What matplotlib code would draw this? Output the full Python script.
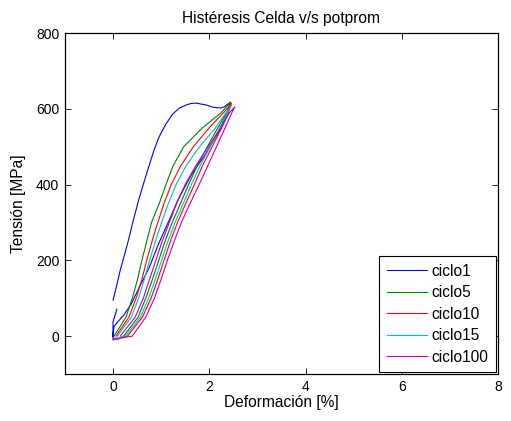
import numpy as np
import matplotlib
matplotlib.use('Agg')
from matplotlib import pyplot as plt

plt.rcParams['font.family'] = ['Liberation Sans', 'DejaVu Sans']

# ciclo1: loading curve, unloading curve, small stub at the origin
ciclo1_x = [0.0, 0.06, 0.15, 0.24, 0.32, 0.42, 0.53, 0.64, 0.74, 0.85, 0.95, 1.1, 1.24, 1.38, 1.52,
            1.62, 1.73, 1.85, 1.94, 2.05, 2.15, 2.25, 2.32, 2.38, 2.44,
            2.36, 2.2, 1.92, 1.62, 1.36, 1.15, 0.93, 0.75, 0.55, 0.38, 0.22, 0.1, 0.02, 0.0, 0.0, 0.0, 0.0, 0.08]
ciclo1_y = [95, 125, 174, 215, 253, 305, 358, 405, 446, 490, 524, 560, 586, 602, 610,
            614, 615, 612, 610, 605, 603, 602, 606, 612, 617,
            585, 540, 480, 424, 362, 301, 239, 180, 130, 85, 55, 38, 25, 5, -3, 20, 38, 71]

# later cycles: x of each branch at these stress levels
loop_y = [0, 50, 100, 150, 200, 250, 300, 350, 400, 450, 500, 550, 590]

ciclo5_low = [0.22, 0.52, 0.68, 0.82, 0.95, 1.08, 1.23, 1.40, 1.57, 1.75, 1.96, 2.18, 2.36]
ciclo5_up = [0.02, 0.27, 0.40, 0.51, 0.60, 0.70, 0.80, 0.96, 1.10, 1.25, 1.47, 1.86, 2.25]
ciclo5_peak = (2.44, 618)

ciclo10_low = [0.30, 0.61, 0.79, 0.93, 1.06, 1.19, 1.34, 1.51, 1.69, 1.86, 2.06, 2.26, 2.40]
ciclo10_up = [0.06, 0.33, 0.48, 0.60, 0.70, 0.81, 0.93, 1.06, 1.21, 1.41, 1.67, 2.00, 2.30]
ciclo10_peak = (2.46, 615)

ciclo15_low = [0.26, 0.57, 0.74, 0.88, 1.01, 1.14, 1.29, 1.46, 1.63, 1.81, 2.02, 2.22, 2.38]
ciclo15_up = [0.09, 0.38, 0.53, 0.65, 0.76, 0.88, 1.01, 1.15, 1.31, 1.52, 1.80, 2.13, 2.35]
ciclo15_peak = (2.47, 611)

ciclo100_low = [0.40, 0.68, 0.86, 1.00, 1.13, 1.27, 1.42, 1.60, 1.79, 1.97, 2.15, 2.33, 2.47]
ciclo100_up = [0.15, 0.46, 0.63, 0.76, 0.89, 1.02, 1.17, 1.32, 1.50, 1.72, 1.98, 2.24, 2.42]
ciclo100_peak = (2.53, 605)


def loop(low, up, peak, start_x, start_y):
    x = [0.0, start_x] + low + [peak[0]] + up[::-1]
    y = [start_y, start_y + 2] + loop_y + [peak[1]] + loop_y[::-1]
    return x, y


fig = plt.figure(figsize=(5.11, 4.21), dpi=100)
ax = fig.add_axes([0.127, 0.1116, 0.8476, 0.81])

lw = 0.8
ax.plot(ciclo1_x, ciclo1_y, color=(0, 0, 1), lw=lw, label='ciclo1')
x, y = loop(ciclo5_low, ciclo5_up, ciclo5_peak, 0.1, -10)
ax.plot(x, y, color=(0, 0.5, 0), lw=lw, label='ciclo5')
x, y = loop(ciclo10_low, ciclo10_up, ciclo10_peak, 0.12, -9)
ax.plot(x, y, color=(1, 0, 0), lw=lw, label='ciclo10')
x, y = loop(ciclo15_low, ciclo15_up, ciclo15_peak, 0.15, -8)
ax.plot(x, y, color=(0, 0.75, 0.75), lw=lw, label='ciclo15')
x, y = loop(ciclo100_low, ciclo100_up, ciclo100_peak, 0.2, -6)
ax.plot(x, y, color=(0.75, 0, 0.75), lw=lw, label='ciclo100')

ax.set_xlim(-1, 8)
ax.set_ylim(-100, 800)
ax.set_xticks([0, 2, 4, 6, 8])
ax.set_yticks([0, 200, 400, 600, 800])
ax.tick_params(direction='in', top=True, right=True, length=4, width=0.6,
               labelsize=10, pad=4)
for s in ax.spines.values():
    s.set_linewidth(0.9)

ax.set_title('Histéresis Celda v/s potprom', fontsize=11.2, pad=7)
ax.set_xlabel('Deformación [%]', fontsize=11.2, labelpad=1)
ax.set_ylabel('Tensión [MPa]', fontsize=11.2, labelpad=7)

leg = ax.legend(loc='lower right', borderaxespad=0.1, fancybox=False, framealpha=1,
                edgecolor='black', handlelength=2.6, labelspacing=0.42, handletextpad=0.3,
                borderpad=0.5, fontsize=11.2)
leg.get_frame().set_linewidth(0.8)

fig.savefig('out.png', dpi=100)
